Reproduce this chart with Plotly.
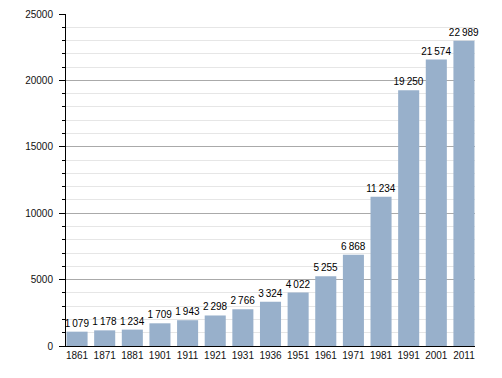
import plotly.graph_objects as go

years = ["1861", "1871", "1881", "1901", "1911", "1921", "1931", "1936",
         "1951", "1961", "1971", "1981", "1991", "2001", "2011"]
population = [1079, 1178, 1234, 1709, 1943, 2298, 2766, 3324,
              4022, 5255, 6868, 11234, 19250, 21574, 22989]
y_ticks = [0, 5000, 10000, 15000, 20000, 25000]

labels = [f"{v:,}".replace(",", "\u2009") for v in population]

fig = go.Figure(go.Bar(
    x=years, y=population, text=labels, textposition="outside",
    cliponaxis=False, marker=dict(color="#98b0cb", line=dict(width=0)),
    textfont=dict(color="#000000", size=10), hoverinfo="skip",
))

fig.update_layout(
    width=502, height=378,
    margin=dict(l=66, r=27, t=14, b=32, autoexpand=False),
    paper_bgcolor="white", plot_bgcolor="white",
    font=dict(family="Liberation Sans, Arial, sans-serif", size=10, color="#000000"),
    bargap=0.238, showlegend=False,
    uniformtext=dict(mode="show", minsize=10),
)
fig.update_xaxes(
    type="category", range=[-0.4, 14.4], automargin=False,
    showline=True, linecolor="#000000", linewidth=1,
    ticks="", showgrid=False, tickfont=dict(size=10, color="#111111"),
)
fig.update_yaxes(
    range=[0, 25000], tickvals=y_ticks, ticktext=[str(v) for v in y_ticks],
    automargin=False,
    showline=True, linecolor="#000000", linewidth=1,
    ticks="outside", ticklen=6, tickcolor="#000000",
    showgrid=True, gridcolor="#aaaaaa", gridwidth=1, zeroline=False,
    tickfont=dict(size=10, color="#111111"), ticklabelstandoff=4,
    minor=dict(dtick=1000, ticks="outside", ticklen=3, tickcolor="#000000",
               showgrid=True, gridcolor="#e6e6e6", gridwidth=1),
)

fig.write_html(
    "out.html",
    config={"displayModeBar": False, "staticPlot": True},
    post_script="document.body.style.margin='0';document.body.style.overflow='hidden';",
)
